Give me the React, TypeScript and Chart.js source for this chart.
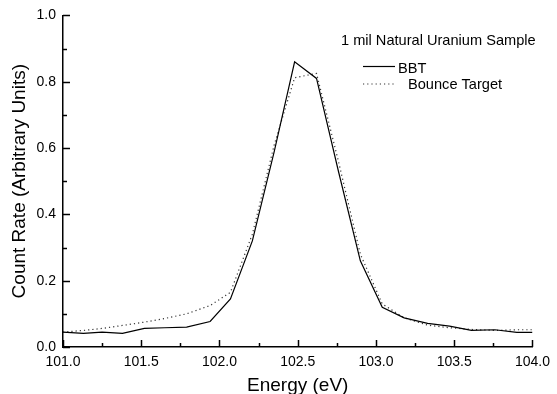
import React, { useEffect, useRef } from "react";
import { Chart, registerables } from "chart.js";

Chart.register(...registerables);

const energy = [101.0, 101.13, 101.25, 101.38, 101.52, 101.65, 101.79, 101.94, 102.07, 102.21, 102.35, 102.48, 102.62, 102.76, 102.9, 103.04, 103.18, 103.33, 103.47, 103.61, 103.76, 103.9, 104.0];
const bbt = [0.045, 0.041, 0.045, 0.041, 0.056, 0.058, 0.06, 0.077, 0.145, 0.32, 0.59, 0.86, 0.81, 0.53, 0.26, 0.12, 0.088, 0.071, 0.063, 0.05, 0.052, 0.044, 0.044];
const bounceTarget = [0.045, 0.05, 0.056, 0.065, 0.075, 0.086, 0.1, 0.125, 0.165, 0.34, 0.61, 0.812, 0.825, 0.56, 0.28, 0.13, 0.088, 0.066, 0.058, 0.053, 0.05, 0.052, 0.052];

const legendTitle = "1 mil Natural Uranium Sample";
const seriesNames = ["BBT", "Bounce Target"];
const xTitle = "Energy (eV)";
const yTitle = "Count Rate (Arbitrary Units)";

const FONT = "'Liberation Sans', Arial, Helvetica, sans-serif";

const inwardTicks = {
  id: "inwardTicks",
  afterDraw(chart: any) {
    const ctx = chart.ctx;
    const area = chart.chartArea;
    const xs = chart.scales.x;
    const ys = chart.scales.y;
    ctx.save();
    ctx.strokeStyle = "#000";
    ctx.lineWidth = 1.5;
    for (let i = 0; i <= 10; i++) {
      const v = i / 10;
      const y = Math.round(ys.getPixelForValue(v)) + 0.5;
      const len = i % 2 === 0 ? 7 : 4;
      ctx.beginPath();
      ctx.moveTo(area.left, y);
      ctx.lineTo(area.left + len, y);
      ctx.stroke();
    }
    for (let i = 0; i <= 12; i++) {
      const v = 101 + i * 0.25;
      const x = Math.round(xs.getPixelForValue(v)) + 0.5;
      const len = i % 2 === 0 ? 7 : 4;
      ctx.beginPath();
      ctx.moveTo(x, area.bottom);
      ctx.lineTo(x, area.bottom - len);
      ctx.stroke();
    }
    ctx.restore();
  },
};

const legendPlugin = {
  id: "customLegend",
  afterDraw(chart: any) {
    const ctx = chart.ctx;
    ctx.save();
    ctx.fillStyle = "#000";
    ctx.font = `14.6px ${FONT}`;
    ctx.textBaseline = "alphabetic";
    ctx.textAlign = "left";
    ctx.fillText(legendTitle, 341, 45);
    ctx.strokeStyle = "#000";
    ctx.lineWidth = 1.2;
    ctx.beginPath();
    ctx.moveTo(363, 66.5);
    ctx.lineTo(395, 66.5);
    ctx.stroke();
    ctx.fillText(seriesNames[0], 398, 72.5);
    ctx.setLineDash([1.2, 3]);
    ctx.strokeStyle = "#333";
    ctx.beginPath();
    ctx.moveTo(363, 84);
    ctx.lineTo(394, 84);
    ctx.stroke();
    ctx.setLineDash([]);
    ctx.fillText(seriesNames[1], 408, 89);
    ctx.restore();
  },
};

export default function App() {
  const ref = useRef<HTMLCanvasElement>(null);
  useEffect(() => {
    document.body.style.margin = "0";
    const canvas = ref.current!;
    const chart = new Chart(canvas, {
      type: "line",
      data: {
        datasets: [
          {
            label: seriesNames[0],
            data: energy.map((x, i) => ({ x, y: bbt[i] })),
            borderColor: "#000",
            borderWidth: 1.2,
            pointRadius: 0,
            tension: 0,
            fill: false,
          },
          {
            label: seriesNames[1],
            data: energy.map((x, i) => ({ x, y: bounceTarget[i] })),
            borderColor: "#333",
            borderWidth: 1.2,
            borderDash: [1.2, 3],
            pointRadius: 0,
            tension: 0,
            fill: false,
          },
        ],
      },
      options: {
        animation: false,
        responsive: false,
        devicePixelRatio: 1,
        layout: { padding: { top: 15, right: 21, left: 0, bottom: 0 } },
        plugins: { legend: { display: false }, tooltip: { enabled: false } },
        scales: {
          x: {
            type: "linear",
            min: 101,
            max: 104,
            afterFit: (s: any) => { s.height = 47; },
            ticks: {
              stepSize: 0.5,
              color: "#000",
              padding: 7,
              font: { family: FONT, size: 14 },
              callback: (v: any) => Number(v).toFixed(1),
            },
            grid: { drawOnChartArea: false, drawTicks: false },
            border: { display: true, color: "#000", width: 1.5 },
            title: {
              display: true,
              text: xTitle,
              color: "#000",
              font: { family: FONT, size: 19 },
              padding: { top: 0, bottom: -3 },
            },
          },
          y: {
            type: "linear",
            min: 0,
            max: 1,
            afterFit: (s: any) => { s.width = 63; },
            ticks: {
              stepSize: 0.2,
              color: "#000",
              padding: 7,
              font: { family: FONT, size: 14 },
              callback: (v: any) => Number(v).toFixed(1),
            },
            grid: { drawOnChartArea: false, drawTicks: false },
            border: { display: true, color: "#000", width: 1.5 },
            title: {
              display: true,
              text: yTitle,
              color: "#000",
              font: { family: FONT, size: 19 },
              padding: { top: 8, bottom: 0 },
            },
          },
        },
      },
      plugins: [inwardTicks, legendPlugin],
    });
    return () => chart.destroy();
  }, []);
  return (
    <div style={{ width: 557, height: 394 }}>
      <canvas ref={ref} width={557} height={394} style={{ display: "block" }} />
    </div>
  );
}
